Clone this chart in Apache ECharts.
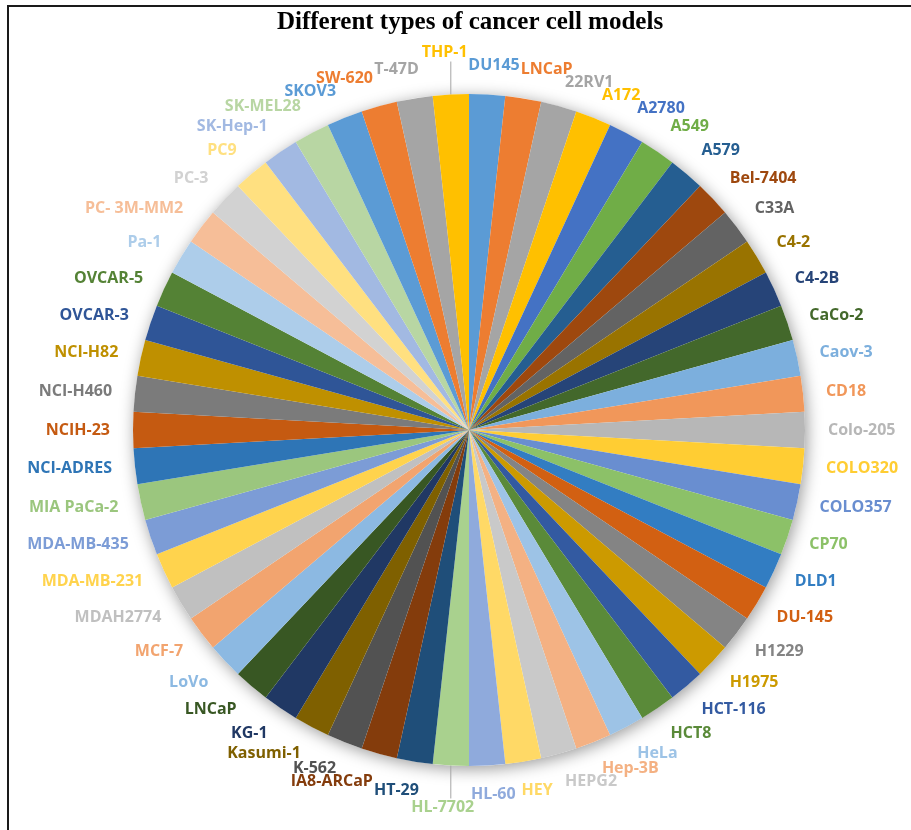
<!DOCTYPE html>
<html><head><meta charset="utf-8">
<script src="https://cdn.jsdelivr.net/npm/echarts@6/dist/echarts.min.js"></script>
<style>html,body{margin:0;padding:0;background:#fff}#c{width:911px;height:830px}</style>
</head><body><div id="c"></div>
<script>
const titleText = 'Different types of cancer cell models';
const categories = ['DU145','LNCaP','22RV1','A172','A2780','A549','A579','Bel-7404','C33A','C4-2',
  'C4-2B','CaCo-2','Caov-3','CD18','Colo-205','COLO320','COLO357','CP70','DLD1','DU-145',
  'H1229','H1975','HCT-116','HCT8','HeLa','Hep-3B','HEPG2','HEY','HL-60','HL-7702',
  'HT-29','IA8-ARCaP','K-562','Kasumi-1','KG-1','LNCaP','LoVo','MCF-7','MDAH2774','MDA-MB-231',
  'MDA-MB-435','MIA PaCa-2','NCI-ADRES','NCIH-23','NCI-H460','NCI-H82','OVCAR-3','OVCAR-5','Pa-1','PC- 3M-MM2',
  'PC-3','PC9','SK-Hep-1','SK-MEL28','SKOV3','SW-620','T-47D','THP-1'];
const values = [1,1,1,1,1,1,1,1,1,1, 1,1,1,1,1,1,1,1,1,1, 1,1,1,1,1,1,1,1,1,1,
  1,1,1,1,1,1,1,1,1,1, 1,1,1,1,1,1,1,1,1,1, 1,1,1,1,1,1,1,1];
const palette = ['#5B9BD5','#ED7D31','#A5A5A5','#FFC000','#4472C4','#70AD47',
  '#255E91','#9E480E','#636363','#997300','#264478','#43682B',
  '#7CAFDD','#F1975A','#B7B7B7','#FFCD33','#698ED0','#8CC168',
  '#327DC2','#D26012','#848484','#CC9A00','#335AA1','#5A8A39',
  '#9DC3E6','#F4B183','#C9C9C9','#FFD966','#8FAADC','#A9D18E',
  '#1F4E79','#843C0C','#525252','#7F6000','#203864','#385723',
  '#8CB9E2','#F2A46F','#C0C0C0','#FFD34D','#7C9CD6','#9BC67E',
  '#2E75B6','#C55A11','#7B7B7B','#BF9000','#2F5597','#548235',
  '#ADCDEA','#F6BE98','#D2D2D2','#FFE080','#A2B9E2','#B8D6A3',
  '#5B9BD5','#ED7D31','#A5A5A5','#FFC000'];

// pie geometry (layout settings)
const CX = 469, CY = 430, R = 336, GAP = 23, BOXH = 12, PAD = 1;
const FONT_FAMILY = 'Open Sans', FONT_SIZE = 16;

// ---- label layout (Excel-like outside-end placement with collision push) ----
const total = values.reduce((a, b) => a + b, 0);
let acc = 0;
const mids = values.map(v => { const m = (acc + v / 2) / total * 360; acc += v; return m; });
const ctx = document.createElement('canvas').getContext('2d');
ctx.font = 'bold ' + FONT_SIZE + 'px "' + FONT_FAMILY + '"';
const clamp = (v, a, b) => Math.max(a, Math.min(b, v));
const boxes = categories.map((name, i) => {
  const w = ctx.measureText(name).width;
  const phi = mids[i] * Math.PI / 180, s = Math.sin(phi), c = Math.cos(phi);
  const ax = CX + (R + GAP) * s, ay = CY - (R + GAP) * c;
  const sx = clamp(4 * s, -1, 1);
  const cy = Math.sign(c) * clamp(2.5 * (Math.abs(c) - 0.35), 0, 1);
  return { i, w, h: BOXH, x: ax + w / 2 * sx, y: ay - BOXH / 2 * cy, s, c, line: false };
});
const overlap = (a, b) => Math.abs(a.x - b.x) < (a.w + b.w) / 2 + PAD && Math.abs(a.y - b.y) < (a.h + b.h) / 2 + PAD;
const placed = [];
function place(list, vdir, hdir, poleDir) {
  list.forEach((b, k) => {
    for (let it = 0; it < 300; it++) {
      const hit = placed.find(p => overlap(b, p));
      if (!hit) break;
      const needY = vdir > 0 ? (hit.y + (hit.h + b.h) / 2 + PAD) - b.y : b.y - (hit.y - (hit.h + b.h) / 2 - PAD);
      const needX = hdir > 0 ? (hit.x + (hit.w + b.w) / 2 + PAD) - b.x : b.x - (hit.x - (hit.w + b.w) / 2 - PAD);
      if (k === 0 && poleDir) {
        const needP = poleDir > 0 ? (hit.y + (hit.h + b.h) / 2 + PAD) - b.y : b.y - (hit.y - (hit.h + b.h) / 2 - PAD);
        b.y += poleDir * (needP + 0.01); b.line = true; continue;
      }
      if (needX <= needY) b.x += hdir * (needX + 0.01); else b.y += vdir * (needY + 0.01);
    }
    placed.push(b);
  });
}
const byMid = (f, dir) => boxes.filter(b => f(mids[b.i])).sort((a, b) => dir * (mids[a.i] - mids[b.i]));
place(byMid(m => m < 90, 1), 1, 1, 0);
place(byMid(m => m >= 90 && m < 180, -1), -1, 1, 0);
place(byMid(m => m >= 180 && m < 270, 1), -1, -1, 1);
place(byMid(m => m >= 270, -1), 1, -1, -1);
boxes.forEach(b => {
  if (!b.line) return;
  const x0 = CX + R * b.s, y0 = CY - R * b.c;
  const y1 = b.c > 0 ? b.y + b.h / 2 + 3 : b.y - b.h / 2 - 3;
  b.pts = [[x0, y0], [x0, (y0 + y1) / 2], [x0, y1]];
});

const data = categories.map((name, i) => ({
  name, value: values[i],
  itemStyle: { color: palette[i % palette.length] },
  label: { color: palette[i % palette.length] },
  labelLine: { show: boxes[i].line, lineStyle: { color: '#A6A6A6', width: 1 } }
}));

const chart = echarts.init(document.getElementById('c'), null, { renderer: 'canvas' });
chart.setOption({
  animation: false,
  backgroundColor: '#ffffff',
  graphic: [
    { type: 'rect', z: 100, silent: true, shape: { x: 8, y: 6, width: 1000, height: 1000 },
      style: { fill: 'none', stroke: '#1a1a1a', lineWidth: 2 } },
    { type: 'text', z: 100, silent: true, x: 470, y: 10,
      style: { text: titleText, textAlign: 'center', textVerticalAlign: 'top',
        font: 'bold 25px "Liberation Serif", "Times New Roman", serif', fill: '#000' } }
  ],
  series: [
    { type: 'pie', silent: true, z: 1, center: [CX, CY], radius: R, startAngle: 90,
      label: { show: false }, labelLine: { show: false },
      itemStyle: { color: '#ffffff', shadowBlur: 16, shadowColor: 'rgba(0,0,0,0.4)', shadowOffsetX: 2, shadowOffsetY: 3 },
      data: [{ name: 'shadow', value: 1 }] },
    { type: 'pie', z: 2, center: [CX, CY], radius: R, startAngle: 90, clockwise: true,
      avoidLabelOverlap: false, silent: true,
      emphasis: { disabled: true, scale: false },
      itemStyle: { borderWidth: 0 },
      label: { show: true, position: 'outside', formatter: '{b}', overflow: 'none',
        fontFamily: FONT_FAMILY, fontWeight: 'bold', fontSize: FONT_SIZE },
      labelLine: { show: false, length: 5, length2: 0 },
      labelLayout: function (p) {
        const b = boxes[p.dataIndex];
        const o = { x: b.x, y: b.y, align: 'center', verticalAlign: 'middle' };
        if (b.line) o.labelLinePoints = b.pts;
        return o;
      },
      data }
  ]
});
</script></body></html>
